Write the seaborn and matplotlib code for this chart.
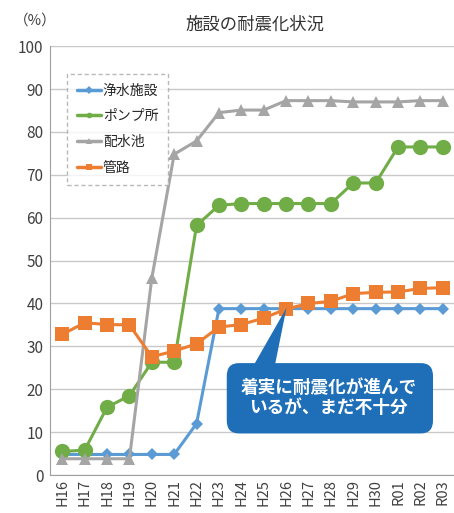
import numpy as np
import pandas as pd
import seaborn as sns
import matplotlib.pyplot as plt
from matplotlib.patches import FancyBboxPatch

# data
years = ['H16', 'H17', 'H18', 'H19', 'H20', 'H21', 'H22', 'H23', 'H24',
         'H25', 'H26', 'H27', 'H28', 'H29', 'H30', 'R01', 'R02', 'R03']
josui = [4.8, 4.8, 4.8, 4.8, 4.8, 4.8, 12.0, 38.8, 38.8,
         38.8, 38.8, 38.8, 38.8, 38.8, 38.8, 38.8, 38.8, 38.8]
pump = [5.5, 5.8, 15.8, 18.5, 26.3, 26.3, 58.2, 62.9, 63.3,
        63.3, 63.3, 63.3, 63.3, 68.1, 68.1, 76.5, 76.5, 76.5]
haisui = [3.8, 3.8, 3.8, 3.8, 45.9, 74.8, 77.9, 84.5, 85.1,
          85.1, 87.3, 87.3, 87.3, 87.0, 87.0, 87.0, 87.3, 87.3]
kanro = [32.8, 35.5, 35.1, 35.0, 27.6, 28.9, 30.6, 34.5, 35.1,
         36.6, 38.7, 40.0, 40.5, 42.3, 42.6, 42.7, 43.5, 43.7]

series_names = ['浄水施設', 'ポンプ所', '配水池', '管路']
colors = ['#5B9BD5', '#70AD47', '#A5A5A5', '#ED7D31']
markers = ['D', 'o', '^', 's']
msizes = [6.5, 11, 9, 10]

df = pd.DataFrame({'year': years, '浄水施設': josui, 'ポンプ所': pump,
                   '配水池': haisui, '管路': kanro})
long = df.melt(id_vars='year', var_name='施設', value_name='率')

sns.set_style('white')
plt.rcParams['font.family'] = ['Noto Sans CJK JP', 'DejaVu Sans']

fig = plt.figure(figsize=(4.54, 5.13), dpi=100)
ax = fig.add_axes([0.111, 0.074, 0.889, 0.836])

for name, c, m, ms in zip(series_names, colors, markers, msizes):
    sub = long[long['施設'] == name]
    sns.lineplot(data=sub, x='year', y='率', ax=ax, color=c, marker=m,
                 markersize=ms, markeredgewidth=0, linewidth=2.2,
                 label=name, sort=False)

ax.set_ylim(0, 100)
ax.set_xlim(-0.53, 17.4)
ax.set_yticks(range(0, 101, 10))
ax.yaxis.grid(True, color='#C8C8C8', linewidth=1)
ax.set_axisbelow(True)
ax.set_xlabel('')
ax.set_ylabel('')
ax.tick_params(axis='y', labelsize=11, colors='#404040', length=0, pad=5)
ax.tick_params(axis='x', labelsize=10.5, colors='#404040', length=0,
               labelrotation=90, pad=3)
ax.set_xticks(range(len(years)))
ax.set_xticklabels(years)
ax.set_xticks(np.arange(-0.5, len(years), 1), minor=True)
ax.tick_params(axis='x', which='minor', length=4, color='#A0A0A0',
               direction='out')
for side in ['top', 'right']:
    ax.spines[side].set_visible(False)
for side in ['left', 'bottom']:
    ax.spines[side].set_color('#A0A0A0')

leg = ax.legend(loc='upper left', bbox_to_anchor=(0.025, 0.952), fontsize=10,
                frameon=True, fancybox=False, handlelength=1.7,
                labelspacing=0.85, borderpad=0.7, handletextpad=0.15)
for h in leg.legend_handles:
    h.set_markersize(4)
    h.set_linewidth(2.5)
fr = leg.get_frame()
fr.set_edgecolor('#A8A8A8')
fr.set_linestyle((0, (3, 2)))
fr.set_linewidth(1)

fig.text(0.562, 0.952, '施設の耐震化状況', ha='center', va='center',
         fontsize=12.5, color='#333333')
fig.text(0.077, 0.960, '（%）', ha='center', va='center', fontsize=10.5,
         color='#404040')

# callout box
box = FancyBboxPatch((0.445, 0.105), 0.495, 0.148, transform=ax.transAxes,
                     boxstyle='round,pad=0.008,rounding_size=0.03',
                     facecolor='#1F6FB8', edgecolor='none', zorder=5)
ax.add_patch(box)
ax.fill([0.50, 0.555, 0.585], [0.25, 0.25, 0.39], transform=ax.transAxes,
        color='#1F6FB8', zorder=5, linewidth=0)
ax.text(0.69, 0.18, '着実に耐震化が進んで\nいるが、まだ不十分',
        transform=ax.transAxes, ha='center', va='center', color='white',
        fontsize=12.7, fontweight='bold', linespacing=1.15, zorder=6)

fig.savefig('out.png', dpi=100)
